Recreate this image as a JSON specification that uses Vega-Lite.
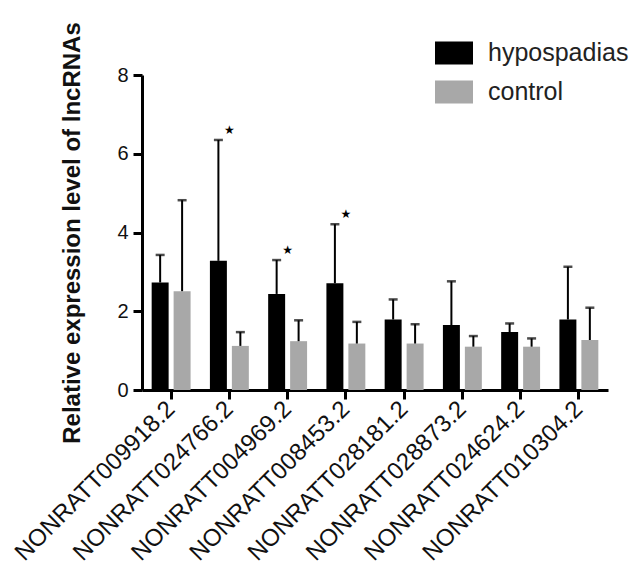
{
  "$schema": "https://vega.github.io/schema/vega-lite/v6.json",
  "width": 466,
  "height": 315,
  "autosize": {"type": "none"},
  "padding": {"left": 142, "top": 75, "right": 30, "bottom": 181},
  "background": "white",
  "config": {"view": {"stroke": null}, "font": "Liberation Sans"},
  "data": {
    "values": [
      {"gene": "NONRATT009918.2", "group": "hypospadias", "mean": 2.73, "errTop": 3.43, "sig": 0},
      {"gene": "NONRATT009918.2", "group": "control", "mean": 2.51, "errTop": 4.82, "sig": 0},
      {"gene": "NONRATT024766.2", "group": "hypospadias", "mean": 3.28, "errTop": 6.35, "sig": 1},
      {"gene": "NONRATT024766.2", "group": "control", "mean": 1.12, "errTop": 1.47, "sig": 0},
      {"gene": "NONRATT004969.2", "group": "hypospadias", "mean": 2.44, "errTop": 3.30, "sig": 1},
      {"gene": "NONRATT004969.2", "group": "control", "mean": 1.24, "errTop": 1.77, "sig": 0},
      {"gene": "NONRATT008453.2", "group": "hypospadias", "mean": 2.71, "errTop": 4.21, "sig": 1},
      {"gene": "NONRATT008453.2", "group": "control", "mean": 1.18, "errTop": 1.73, "sig": 0},
      {"gene": "NONRATT028181.2", "group": "hypospadias", "mean": 1.79, "errTop": 2.30, "sig": 0},
      {"gene": "NONRATT028181.2", "group": "control", "mean": 1.18, "errTop": 1.67, "sig": 0},
      {"gene": "NONRATT028873.2", "group": "hypospadias", "mean": 1.65, "errTop": 2.76, "sig": 0},
      {"gene": "NONRATT028873.2", "group": "control", "mean": 1.10, "errTop": 1.37, "sig": 0},
      {"gene": "NONRATT024624.2", "group": "hypospadias", "mean": 1.47, "errTop": 1.69, "sig": 0},
      {"gene": "NONRATT024624.2", "group": "control", "mean": 1.10, "errTop": 1.31, "sig": 0},
      {"gene": "NONRATT010304.2", "group": "hypospadias", "mean": 1.79, "errTop": 3.13, "sig": 0},
      {"gene": "NONRATT010304.2", "group": "control", "mean": 1.27, "errTop": 2.09, "sig": 0}
    ]
  },
  "encoding": {
    "x": {
      "field": "gene", "type": "nominal", "sort": null,
      "scale": {"paddingInner": 0, "paddingOuter": 0},
      "axis": {
        "title": null, "labelAngle": -45, "labelAlign": "right", "labelBaseline": "middle",
        "labelFontSize": 24, "labelColor": "#111", "labelPadding": 6, "labelLimit": 400,
        "tickSize": 9, "tickWidth": 3, "tickColor": "black",
        "domainWidth": 3, "domainColor": "black"
      }
    }
  },
  "layer": [
    {
      "mark": {"type": "bar"},
      "encoding": {
        "xOffset": {
          "field": "group", "type": "nominal", "sort": ["hypospadias", "control"],
          "scale": {"paddingInner": 0.227, "paddingOuter": 0.44}
        },
        "y": {
          "field": "mean", "type": "quantitative",
          "scale": {"domain": [0, 8], "nice": false},
          "axis": {
            "values": [0, 2, 4, 6, 8], "grid": false,
            "title": "Relative expression level of lncRNAs",
            "titleFontSize": 24, "titleFontWeight": "bold", "titleColor": "#111", "titlePadding": 32,
            "labelFontSize": 20, "labelColor": "#111", "labelPadding": 5,
            "tickSize": 9, "tickWidth": 3, "tickColor": "black",
            "domainWidth": 3, "domainColor": "black"
          }
        },
        "color": {
          "field": "group", "type": "nominal",
          "scale": {"domain": ["hypospadias", "control"], "range": ["#000000", "#a8a8a8"]},
          "legend": {
            "title": null, "orient": "none", "legendX": 293, "legendY": -41,
            "symbolType": "M-1,-0.6H1V0.6H-1Z", "symbolSize": 1444, "symbolStrokeWidth": 0,
            "labelFontSize": 25, "labelColor": "#222", "labelOffset": 15, "rowPadding": 7, "padding": 0,
            "labelLimit": 300
          }
        }
      }
    },
    {
      "mark": {"type": "rule", "color": "black", "strokeWidth": 2},
      "encoding": {
        "xOffset": {"field": "group", "type": "nominal", "sort": ["hypospadias", "control"]},
        "y": {"field": "mean", "type": "quantitative"},
        "y2": {"field": "errTop"}
      }
    },
    {
      "mark": {"type": "tick", "color": "black", "size": 9, "thickness": 2.5, "orient": "horizontal"},
      "encoding": {
        "xOffset": {"field": "group", "type": "nominal", "sort": ["hypospadias", "control"]},
        "y": {"field": "errTop", "type": "quantitative"}
      }
    },
    {
      "transform": [{"filter": "datum.sig == 1 && datum.group == 'hypospadias'"}],
      "mark": {"type": "text", "text": "★", "font": "DejaVu Sans", "fontSize": 12, "color": "black", "dy": -10},
      "encoding": {
        "y": {"field": "errTop", "type": "quantitative"}
      }
    }
  ]
}
